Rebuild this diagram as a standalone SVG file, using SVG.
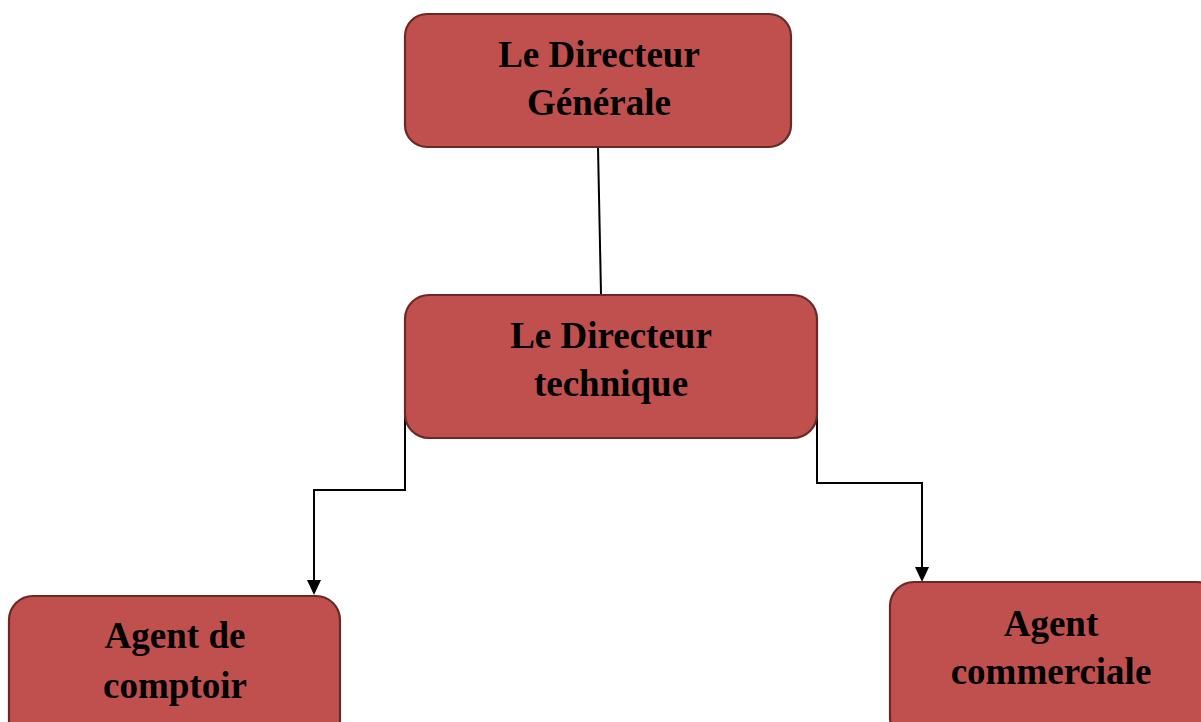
<svg xmlns="http://www.w3.org/2000/svg" width="1201" height="722" viewBox="0 0 1201 722">
<style>
.box{fill:#C0504D;stroke:#6B2826;stroke-width:2.2}
.t{font-family:"Liberation Serif","Times New Roman",serif;font-weight:bold;font-size:37px;fill:#000;text-anchor:middle}
.c{fill:none;stroke:#000;stroke-width:2}
</style>
<rect width="1201" height="722" fill="#fff"/>
<g id="connectors">
<line class="c" x1="598" y1="147" x2="601" y2="294"/>
<path class="c" d="M405,383 V490 H314 V582"/>
<path d="M307,580 L321,580 L314,595 z" fill="#000"/>
<path class="c" d="M817,383 V483 H922 V569"/>
<path d="M915,567 L929,567 L922,582 z" fill="#000"/>
</g>
<g id="node-dg">
<rect class="box" x="405" y="14" width="386" height="133" rx="22"/>
<text class="t" x="599" y="67">Le Directeur</text>
<text class="t" x="599" y="115">Générale</text>
</g>
<g id="node-dt">
<rect class="box" x="405" y="295" width="412" height="143" rx="24"/>
<text class="t" x="611" y="348">Le Directeur</text>
<text class="t" x="611" y="396">technique</text>
</g>
<g id="node-comptoir">
<rect class="box" x="9" y="596" width="331" height="150" rx="24"/>
<text class="t" x="175" y="648">Agent de</text>
<text class="t" x="175" y="698">comptoir</text>
</g>
<g id="node-commerciale">
<rect class="box" x="890" y="582" width="330" height="160" rx="24"/>
<text class="t" x="1051" y="636">Agent</text>
<text class="t" x="1051" y="684">commerciale</text>
</g>
</svg>
